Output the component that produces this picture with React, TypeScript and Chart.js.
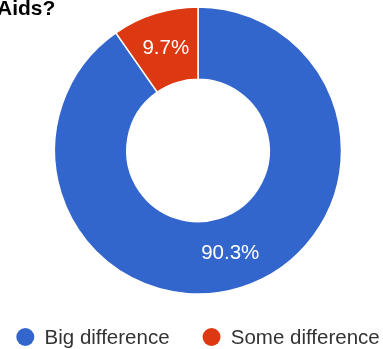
import React, { useEffect, useRef } from "react";
import { Chart, registerables } from "chart.js";

Chart.register(...registerables);

const titleText = "Aids?";
const categories = ["Big difference", "Some difference"];
const shares = [90.3, 9.7];
const sliceColors = ["#3366CC", "#DC3912"];

const FONT = "Arial, 'Liberation Sans', sans-serif";

const titlePlugin = {
  id: "cutTitle",
  afterDraw(chart: any) {
    const ctx = chart.ctx;
    ctx.save();
    ctx.font = `bold 21px ${FONT}`;
    ctx.fillStyle = "#000";
    ctx.textAlign = "left";
    ctx.textBaseline = "alphabetic";
    ctx.fillText(titleText, -3, 15);
    ctx.restore();
  },
};

const sliceLabelPlugin = {
  id: "sliceLabels",
  afterDatasetsDraw(chart: any) {
    const ctx = chart.ctx;
    const meta = chart.getDatasetMeta(0);
    const data = chart.data.datasets[0].data as number[];
    ctx.save();
    ctx.font = `20.5px ${FONT}`;
    ctx.fillStyle = "#fff";
    ctx.textAlign = "center";
    ctx.textBaseline = "middle";
    meta.data.forEach((arc: any, i: number) => {
      const p = arc.getProps(["x", "y", "startAngle", "endAngle", "innerRadius", "outerRadius"], true);
      const mid = (p.startAngle + p.endAngle) / 2;
      const r = (p.innerRadius + p.outerRadius) / 2;
      ctx.fillText(`${data[i].toFixed(1)}%`, p.x + Math.cos(mid) * r, p.y + Math.sin(mid) * r);
    });
    ctx.restore();
  },
};

// Bottom legend with round markers, centred under the doughnut
const legendPlugin = {
  id: "roundLegend",
  afterDraw(chart: any) {
    const ctx = chart.ctx;
    const labels = chart.data.labels as string[];
    const colors = chart.data.datasets[0].backgroundColor as string[];
    const markerR = 9;
    const textGap = 10.25;
    const itemGap = 33;
    const y = 337;
    ctx.save();
    ctx.font = `20.5px ${FONT}`;
    const widths = labels.map((t) => markerR * 2 + textGap + ctx.measureText(t).width);
    const total = widths.reduce((a, b) => a + b, 0) + itemGap * (labels.length - 1);
    const cx = (chart.chartArea.left + chart.chartArea.right) / 2;
    let x = cx - total / 2;
    labels.forEach((t, i) => {
      ctx.beginPath();
      ctx.fillStyle = colors[i];
      ctx.arc(x + markerR, y, markerR, 0, Math.PI * 2);
      ctx.fill();
      ctx.fillStyle = "#333333";
      ctx.textAlign = "left";
      ctx.textBaseline = "middle";
      ctx.fillText(t, x + markerR * 2 + textGap, y + 1);
      x += widths[i] + itemGap;
    });
    ctx.restore();
  },
};

export default function App() {
  const ref = useRef<HTMLCanvasElement | null>(null);
  useEffect(() => {
    if (!ref.current) return;
    const chart = new Chart(ref.current, {
      type: "doughnut",
      data: {
        labels: categories,
        datasets: [
          {
            data: shares,
            backgroundColor: sliceColors,
            borderColor: "#ffffff",
            borderWidth: 1.5,
          },
        ],
      },
      options: {
        responsive: false,
        animation: false,
        radius: "100%",
        cutout: "49.6%",
        layout: { padding: { top: 6.25, left: 13, right: 0, bottom: 54.25 } },
        plugins: {
          title: { display: false },
          tooltip: { enabled: false },
          legend: { display: false },
        },
      },
      plugins: [titlePlugin, sliceLabelPlugin, legendPlugin],
    });
    return () => chart.destroy();
  }, []);
  return (
    <div style={{ position: "fixed", left: 0, top: 0, width: 383, height: 349, overflow: "hidden", background: "#fff" }}>
      <canvas ref={ref} width={383} height={349} />
    </div>
  );
}
